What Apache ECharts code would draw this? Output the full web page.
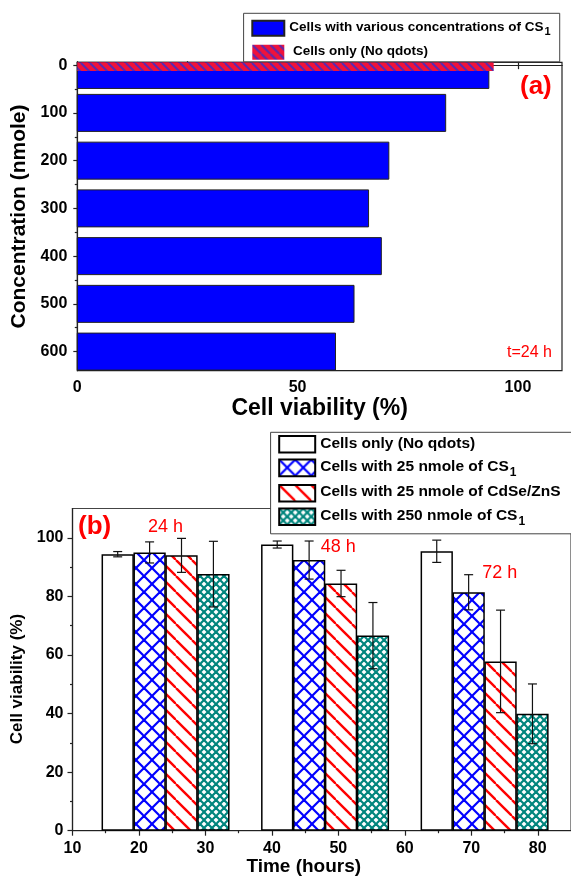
<!DOCTYPE html>
<html>
<head>
<meta charset="utf-8">
<script src="https://cdn.jsdelivr.net/npm/echarts@6/dist/echarts.min.js"></script>
<style>
  html, body { margin: 0; padding: 0; background: #fff; }
  #chart { width: 571px; height: 879px; }
</style>
</head>
<body>
<div id="chart"></div>
<script>
// panel (a): viability at 24 h vs concentration
var concA = [10, 100, 200, 300, 400, 500, 600];
var viabA = [93.4, 83.6, 70.7, 66.1, 69.0, 62.8, 58.6];
var concCtrlA = [0];
var viabCtrlA = [94.5];
var concTicksA = [0, 100, 200, 300, 400, 500, 600];
var concMinorA = [50, 150, 250, 350, 450, 550];

// panel (b): viability vs time, 4 groups per time point
var hours = [24, 48, 72];
var cellsOnly = [94.4, 97.7, 95.4];
var cellsOnlyErr = [0.9, 1.2, 3.8];
var cs25 = [95.0, 92.4, 81.4];
var cs25Err = [3.6, 6.5, 6.0];
var cdse25 = [94.0, 84.4, 57.8];
var cdse25Err = [5.8, 4.5, 17.5];
var cs250 = [87.6, 66.6, 39.9];
var cs250Err = [11.2, 11.3, 10.2];
var timeTicks = [10, 20, 30, 40, 50, 60, 70, 80];
var timeMinor = [15, 25, 35, 45, 55, 65, 75];
var viabTicksB = [0, 20, 40, 60, 80, 100];
var viabMinorB = [10, 30, 50, 70, 90];

var FONT = '"Liberation Sans", Arial, sans-serif';

// hatch fills drawn on small canvases
function hatch(bg, fg, size, lw, dirs) {
  var c = document.createElement('canvas');
  c.width = size; c.height = size;
  var g = c.getContext('2d');
  if (bg) { g.fillStyle = bg; g.fillRect(0, 0, size, size); }
  g.strokeStyle = fg; g.lineWidth = lw;
  dirs.forEach(function (d) {
    for (var k = -1; k <= 1; k++) {
      g.beginPath();
      if (d === '\\') { g.moveTo(k * size, 0); g.lineTo(k * size + size, size); }
      else { g.moveTo(k * size + size, 0); g.lineTo(k * size, size); }
      g.stroke();
    }
  });
  return { image: c, repeat: 'repeat' };
}

var patCtrlA = hatch('#f0123a', '#5a2ab0', 9, 2, ['\\']);
var patBlue = hatch('#ffffff', '#0000ff', 16, 2.2, ['\\', '/']);
var patRed = hatch('#ffffff', '#ff0000', 16, 2.4, ['\\']);
var patTeal = hatch('#ffffff', '#00857d', 8, 2.2, ['\\', '/']);

function hbar(h, fill, stroke) {
  return function (params, api) {
    var y = api.value(1), v = api.value(0);
    var p0 = api.coord([0, y]), p1 = api.coord([v, y]);
    var cs = params.coordSys;
    var r = echarts.graphic.clipRectByRect(
      { x: p0[0], y: p0[1] - h / 2, width: p1[0] - p0[0], height: h },
      { x: cs.x, y: cs.y, width: cs.width, height: cs.height });
    if (!r) return;
    return { type: 'rect', shape: r, style: { fill: fill, stroke: stroke, lineWidth: 1 } };
  };
}

function errBar(params, api) {
  var x = api.value(0), lo = api.value(1), hi = api.value(2);
  var a = api.coord([x, hi]), b = api.coord([x, lo]);
  var w = 4.5, st = { stroke: '#111', lineWidth: 1.2 };
  return { type: 'group', children: [
    { type: 'line', shape: { x1: a[0], y1: a[1], x2: b[0], y2: b[1] }, style: st },
    { type: 'line', shape: { x1: a[0] - w, y1: a[1], x2: a[0] + w, y2: a[1] }, style: st },
    { type: 'line', shape: { x1: b[0] - w, y1: b[1], x2: b[0] + w, y2: b[1] }, style: st }
  ] };
}

var groupOff = [-7.2, -2.4, 2.4, 7.2];
var seriesB = [
  { id: 'b_white', vals: cellsOnly, err: cellsOnlyErr, color: '#ffffff' },
  { id: 'b_blue', vals: cs25, err: cs25Err, color: patBlue },
  { id: 'b_red', vals: cdse25, err: cdse25Err, color: patRed },
  { id: 'b_teal', vals: cs250, err: cs250Err, color: patTeal }
];

var labels = {
  a_blue: '{t|Cells with various concentrations of CS}{s|1}',
  a_red: '{t| Cells only (No qdots)}',
  b_white: '{u|Cells only (No qdots)}',
  b_blue: '{u|Cells with 25 nmole of CS}{v|1}',
  b_red: '{u|Cells with 25 nmole of CdSe/ZnS}',
  b_teal: '{u|Cells with 250 nmole of CS}{v|1}'
};

var series = [
  {
    id: 'a_blue', name: 'a_blue', type: 'custom', xAxisIndex: 0, yAxisIndex: 0,
    renderItem: hbar(37, '#0000ff', '#222'),
    itemStyle: { color: '#0000ff', borderColor: '#222', borderWidth: 1 },
    encode: { x: 0, y: 1 },
    data: concA.map(function (c, i) { return [viabA[i], c]; })
  },
  {
    id: 'a_red', name: 'a_red', type: 'custom', xAxisIndex: 0, yAxisIndex: 0,
    renderItem: hbar(11.5, patCtrlA, null),
    itemStyle: { color: patCtrlA },
    encode: { x: 0, y: 1 }, z: 3,
    data: concCtrlA.map(function (c, i) { return [viabCtrlA[i], c]; })
  }
];

seriesB.forEach(function (s, k) {
  series.push({
    id: s.id, name: s.id, type: 'bar', xAxisIndex: 2, yAxisIndex: 2,
    barWidth: 32.3, barGap: '-100%',
    itemStyle: { color: s.color, borderColor: '#000', borderWidth: 1.5 },
    data: hours.map(function (h, i) { return [h + groupOff[k], s.vals[i]]; })
  });
});
seriesB.forEach(function (s, k) {
  series.push({
    type: 'custom', xAxisIndex: 2, yAxisIndex: 2, z: 5,
    renderItem: errBar, encode: { x: 0, y: [1, 2] },
    data: hours.map(function (h, i) { return [h + groupOff[k], s.vals[i] - s.err[i], s.vals[i] + s.err[i]]; })
  });
});

var lineSt = { color: '#222', width: 1.2 };
var tickLbl = { fontFamily: FONT, fontSize: 16, fontWeight: 'bold', color: '#000' };

function minorAxis(grid, min, max, pos, vals, inside, inverse) {
  return {
    type: 'value', gridIndex: grid, min: min, max: max, position: pos, inverse: !!inverse,
    axisLine: { show: false }, axisLabel: { show: false }, splitLine: { show: false },
    axisTick: { show: true, inside: !!inside, length: 2.5, lineStyle: lineSt, customValues: vals }
  };
}

var option = {
  backgroundColor: '#fff',
  animation: false,
  textStyle: { fontFamily: FONT },
  grid: [
    { left: 77.3, top: 62.3, width: 484.7, height: 308.4, show: true, borderColor: '#222', borderWidth: 1.2, backgroundColor: 'transparent' },
    { left: 72.5, top: 508.5, width: 501.5, height: 322.2, show: true, borderColor: '#444', borderWidth: 1.2, backgroundColor: 'transparent' }
  ],
  xAxis: [
    {
      type: 'value', gridIndex: 0, min: 0, max: 110, position: 'bottom',
      axisLine: { lineStyle: lineSt },
      axisTick: { inside: true, length: 4, lineStyle: lineSt, customValues: [0, 25, 50, 75, 100] },
      axisLabel: Object.assign({ margin: 9, customValues: [0, 50, 100] }, tickLbl),
      splitLine: { show: false },
      name: 'Cell viability (%)', nameLocation: 'middle', nameGap: 26,
      nameTextStyle: { fontFamily: FONT, fontSize: 23, fontWeight: 'bold', color: '#000' }
    },
    {
      type: 'value', gridIndex: 0, min: 0, max: 110, position: 'top',
      axisLine: { lineStyle: lineSt },
      axisTick: { inside: true, length: 4, lineStyle: lineSt, customValues: [25, 50, 75, 100] },
      axisLabel: { show: false }, splitLine: { show: false }
    },
    {
      type: 'value', gridIndex: 1, min: 10, max: 85, position: 'bottom',
      axisLine: { lineStyle: lineSt },
      axisTick: { length: 5, lineStyle: lineSt, customValues: timeTicks },
      axisLabel: Object.assign({ margin: 10, customValues: timeTicks }, tickLbl),
      splitLine: { show: false },
      name: 'Time (hours)', nameLocation: 'middle', nameGap: 27,
      nameTextStyle: { fontFamily: FONT, fontSize: 19, fontWeight: 'bold', color: '#000', padding: [0, 36, 0, 0] }
    },
    minorAxis(1, 10, 85, 'bottom', timeMinor, false)
  ],
  yAxis: [
    {
      type: 'value', gridIndex: 0, min: -6, max: 640, inverse: true, position: 'left',
      axisLine: { lineStyle: lineSt },
      axisTick: { length: 4, lineStyle: lineSt, customValues: concTicksA },
      axisLabel: Object.assign({ margin: 10, customValues: concTicksA }, tickLbl),
      splitLine: { show: false },
      name: 'Concentration (nmole)', nameLocation: 'middle', nameGap: 44,
      nameTextStyle: { fontFamily: FONT, fontSize: 21, fontWeight: 'bold', color: '#000' }
    },
    minorAxis(0, -6, 640, 'left', concMinorA, false, true),
    {
      type: 'value', gridIndex: 1, min: 0, max: 110, position: 'left',
      axisLine: { lineStyle: lineSt },
      axisTick: { length: 5, lineStyle: lineSt, customValues: viabTicksB },
      axisLabel: Object.assign({ margin: 9, customValues: viabTicksB }, tickLbl),
      splitLine: { show: false },
      name: 'Cell viability (%)', nameLocation: 'middle', nameGap: 41,
      nameTextStyle: { fontFamily: FONT, fontSize: 17, fontWeight: 'bold', color: '#000', padding: [0, 19, 0, 0] }
    },
    minorAxis(1, 0, 110, 'left', viabMinorB, false)
  ],
  legend: [
    {
      left: 243.6, top: 13.3, orient: 'vertical', icon: 'rect', selectedMode: false,
      itemWidth: 32, itemHeight: 15, itemGap: 6,
      padding: [6.5, 9, 2, 7.7],
      borderColor: '#444', borderWidth: 1, backgroundColor: '#fff',
      data: ['a_blue', 'a_red'],
      formatter: function (n) { return labels[n]; },
      textStyle: {
        rich: {
          t: { fontFamily: FONT, fontSize: 13.5, fontWeight: 'bold', color: '#000', lineHeight: 17, verticalAlign: 'top' },
          s: { fontFamily: FONT, fontSize: 11, fontWeight: 'bold', color: '#000', lineHeight: 11, padding: [7, 0, 0, 1], verticalAlign: 'top' }
        }
      }
    },
    {
      left: 270.6, top: 432.3, orient: 'vertical', icon: 'rect', selectedMode: false,
      itemWidth: 36, itemHeight: 16.6, itemGap: 5,
      padding: [2.7, 30, 6, 7.6],
      borderColor: '#444', borderWidth: 1, backgroundColor: '#fff',
      data: ['b_white', 'b_blue', 'b_red', 'b_teal'],
      formatter: function (n) { return labels[n]; },
      textStyle: {
        rich: {
          u: { fontFamily: FONT, fontSize: 15.5, fontWeight: 'bold', color: '#000', lineHeight: 18, verticalAlign: 'top' },
          v: { fontFamily: FONT, fontSize: 12, fontWeight: 'bold', color: '#000', lineHeight: 12, padding: [8, 0, 0, 1], verticalAlign: 'top' }
        }
      }
    }
  ],
  graphic: [
    { type: 'text', style: { x: 520, y: 87, text: '(a)', font: 'bold 26px ' + FONT, fill: '#ff0000', verticalAlign: 'middle' } },
    { type: 'text', style: { x: 507, y: 353, text: 't=24 h', font: '16px ' + FONT, fill: '#ff0000', verticalAlign: 'middle' } },
    { type: 'text', style: { x: 78, y: 527, text: '(b)', font: 'bold 26px ' + FONT, fill: '#ff0000', verticalAlign: 'middle' } },
    { type: 'text', style: { x: 148, y: 527, text: '24 h', font: '18px ' + FONT, fill: '#ff0000', verticalAlign: 'middle' } },
    { type: 'text', style: { x: 320.7, y: 547, text: '48 h', font: '18px ' + FONT, fill: '#ff0000', verticalAlign: 'middle' } },
    { type: 'text', style: { x: 482.3, y: 572.7, text: '72 h', font: '18px ' + FONT, fill: '#ff0000', verticalAlign: 'middle' } }
  ],
  series: series
};

var chart = echarts.init(document.getElementById('chart'), null, { renderer: 'canvas' });
chart.setOption(option);
</script>
</body>
</html>
